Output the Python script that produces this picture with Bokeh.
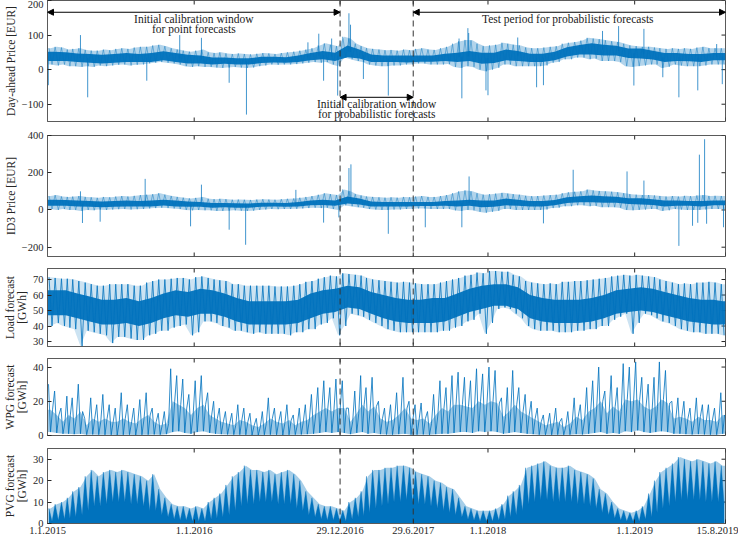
import numpy as np
import pandas as pd
from bokeh.plotting import figure
from bokeh.layouts import column
from bokeh.models import FixedTicker, Span, Arrow, NormalHead, Label, Range1d
from bokeh.embed import file_html
from bokeh.resources import INLINE

# ------------------------------------------------------------------ data
START = "2015-01-01"
END = "2019-08-15"
TICK_DATES = ["2015-01-01", "2016-01-01", "2016-12-29", "2017-06-29",
              "2018-01-01", "2019-01-01", "2019-08-15"]
TICK_LABELS = ["1.1.2015", "1.1.2016", "29.12.2016", "29.6.2017",
               "1.1.2018", "1.1.2019", "15.8.2019"]
SPLIT_DATES = ["2016-12-29", "2017-06-29"]

# --- Day-ahead price [EUR]: half-monthly envelope (upper / lower edge of band)
DA_HI = [62, 66, 64, 58, 60, 62, 57, 55, 55, 58, 56, 60, 62, 60, 64, 66, 66, 70, 72, 68, 62, 58, 55, 52,
         55, 58, 50, 48, 50, 47, 45, 47, 45, 44, 46, 48, 47, 45, 48, 50, 52, 55, 58, 62, 70, 76, 72, 68,
         95, 90, 75, 68, 62, 60, 58, 56, 57, 55, 58, 56, 60, 62, 58, 57, 62, 66, 75, 82, 86, 85, 75, 68,
         70, 72, 78, 75, 72, 70, 64, 62, 62, 64, 66, 68, 75, 78, 80, 84, 92, 90, 88, 85, 82, 80, 75, 70,
         68, 66, 66, 64, 62, 60, 62, 60, 62, 60, 64, 66, 62, 62, 62]
DA_LO = [15, 12, 15, 10, 10, 8, 10, 8, 12, 10, 12, 14, 15, 12, 14, 15, 18, 20, 22, 20, 18, 15, 10, 8,
         10, 8, 8, 6, 5, 6, 8, 6, 5, 6, 10, 12, 15, 14, 15, 15, 16, 18, 20, 22, 20, 22, 15, 10,
         35, 30, 25, 22, 15, 12, 10, 10, 12, 12, 15, 15, 18, 18, 15, 15, 15, 16, 8, 5, 10, 8, 0, -5,
         0, 5, 15, 15, 10, 10, 10, 10, 10, 12, 20, 22, 30, 30, 35, 35, 30, 32, 25, 25, 25, 22, 10, 8,
         10, 12, 15, 15, 5, 8, 15, 12, 10, 10, 10, 12, 15, 15, 15]
# monthly dense core of the band
DA_CORE_LO = [25, 25, 22, 20, 18, 20, 22, 22, 22, 27, 22, 18,
              18, 15, 17, 15, 15, 19, 21, 20, 22, 27, 30, 25,
              36, 32, 22, 22, 22, 21, 23, 23, 25, 22, 25, 17,
              19, 27, 25, 22, 22, 27, 38, 44, 44, 41, 41, 34,
              32, 29, 22, 25, 24, 22, 27, 27]
DA_CORE_HI = [52, 50, 47, 45, 43, 45, 48, 45, 48, 53, 48, 43,
              41, 35, 35, 33, 33, 37, 37, 36, 41, 48, 54, 49,
              70, 58, 44, 41, 41, 41, 41, 41, 46, 49, 54, 49,
              49, 58, 54, 46, 46, 52, 65, 71, 76, 72, 69, 61,
              61, 55, 48, 48, 45, 45, 48, 48]
DA_SPIKE_DATES = ["2015-01-03", "2015-03-24", "2015-04-11", "2015-09-05", "2015-11-26",
                  "2016-01-19", "2016-03-28", "2016-05-10", "2016-10-10", "2016-11-06",
                  "2016-11-18", "2016-12-08", "2016-12-23", "2017-01-20", "2017-01-24",
                  "2017-02-25", "2017-04-28", "2017-10-21", "2017-10-28", "2017-11-12",
                  "2017-11-14", "2017-12-27", "2018-01-01", "2018-03-16", "2018-05-02",
                  "2018-05-19", "2018-10-13", "2018-11-22", "2018-12-30", "2019-01-24",
                  "2019-03-12", "2019-04-21", "2019-06-07", "2019-07-24", "2019-08-07"]
DA_SPIKE_VALS = [-45, 100, -80, -32, 100,
                 92, -38, -130, 79, 104,
                 -32, 90, -75, 163, 130,
                 -27, -75, 90, -83, 120,
                 106, -60, -74, 93, -51,
                 -45, 112, 126, -46, 118,
                 -22, -80, -60, 74, -42]

# --- ID3 price [EUR]
ID3_HI = [75, 80, 72, 70, 72, 75, 70, 68, 65, 70, 68, 72, 75, 72, 76, 80, 82, 85, 90, 82, 75, 70, 66, 62,
          65, 70, 60, 58, 60, 58, 55, 56, 55, 54, 56, 58, 56, 55, 58, 60, 62, 66, 70, 75, 82, 90, 85, 80,
          110, 100, 85, 78, 72, 70, 68, 66, 68, 66, 70, 68, 72, 75, 70, 70, 75, 80, 90, 100, 105, 100, 90, 82,
          85, 88, 92, 88, 85, 82, 76, 74, 75, 78, 80, 82, 90, 95, 98, 100, 110, 105, 102, 100, 98, 95, 90, 85,
          82, 80, 80, 78, 75, 72, 75, 72, 76, 74, 78, 80, 75, 76, 75]
ID3_LO = [5, 0, 5, 0, 0, -5, 0, -2, 2, 0, 2, 4, 5, 2, 4, 5, 8, 10, 12, 10, 8, 5, 0, -2,
          0, -2, -2, -5, -5, -4, -2, -4, -5, -4, 0, 2, 5, 4, 5, 5, 6, 8, 10, 12, 10, 12, 5, 0,
          25, 20, 15, 12, 5, 2, 0, 0, 2, 2, 5, 5, 8, 8, 5, 5, 5, 6, -2, -5, 0, -2, -10, -15,
          -10, -5, 5, 5, 0, 0, 0, 0, 0, 2, 10, 12, 20, 20, 25, 25, 20, 22, 15, 15, 15, 12, 0, -2,
          0, 2, 5, 5, -5, -2, 5, 2, 0, 0, 0, 2, 5, 5, 5]
ID3_CORE_LO = [22, 22, 19, 17, 15, 17, 19, 19, 19, 24, 19, 17,
               17, 12, 15, 12, 12, 17, 19, 17, 19, 25, 27, 22,
               35, 29, 19, 19, 19, 19, 21, 21, 22, 19, 22, 15,
               17, 25, 22, 19, 19, 25, 37, 42, 42, 39, 39, 32,
               29, 27, 19, 22, 22, 19, 25, 25]
ID3_CORE_HI = [55, 53, 51, 48, 45, 48, 51, 48, 51, 55, 51, 45,
               43, 38, 38, 36, 35, 39, 39, 38, 43, 51, 55, 51,
               72, 61, 45, 43, 43, 43, 43, 43, 48, 51, 55, 51,
               51, 61, 55, 48, 48, 53, 68, 73, 78, 73, 71, 63,
               63, 58, 51, 51, 48, 48, 51, 51]
ID3_SPIKE_DATES = ["2015-03-24", "2015-03-29", "2015-05-12", "2015-09-01", "2015-12-23",
                   "2016-01-19", "2016-03-28", "2016-05-08", "2016-09-10", "2016-11-18",
                   "2016-12-26", "2017-01-20", "2017-01-25", "2017-04-28", "2017-07-29",
                   "2017-10-28", "2017-11-15", "2018-05-19", "2018-08-01", "2018-12-13",
                   "2019-01-24", "2019-04-21", "2019-05-25", "2019-06-07", "2019-06-11",
                   "2019-06-24", "2019-06-29", "2019-08-10"]
ID3_SPIKE_VALS = [100, -70, -63, 167, -88,
                  136, -106, -187, 108, -68,
                  -40, 225, 245, -128, -93,
                  -93, 180, -72, 216, 207,
                  158, -193, -85, -69, 297,
                  380, -74, -93]

# --- Load forecast [GWh]
LOAD_HI = [71.5, 71, 70.5, 70.5, 70, 69, 68, 67, 66, 66, 67, 67, 67, 67, 66, 66, 68, 69, 70, 70, 70.5, 71, 71, 70,
           71.5, 72, 71, 70, 69.5, 69, 67, 67, 66, 66, 66, 66, 66, 65.5, 65.5, 65.5, 66, 67, 68.5, 69, 70.5, 71.5, 72.5, 72,
           74, 73.5, 73, 72.5, 71, 70, 69.5, 69, 68.5, 68, 68.5, 68, 67.5, 67, 67, 67, 68, 69, 70, 71, 72.5, 73, 74.5, 74,
           75.5, 75.5, 75, 75, 73, 72, 69, 68, 67.5, 67, 67.5, 67, 68.5, 68.5, 69, 69, 69.5, 70, 70.5, 71, 72, 72.5, 73, 72.5,
           73, 72.5, 72, 71.5, 70, 69, 68, 67, 67.5, 67, 68, 68, 68.5, 68, 67]
LOAD_LO = [40, 42, 40, 39, 38, 27, 37, 36, 35, 34, 29, 33, 33, 32, 31, 31, 34, 35, 37, 37, 39, 40, 41, 34,
           36, 43, 43, 42, 40, 39, 37, 37, 36, 35, 36, 35, 35, 35, 35, 34, 36, 36, 38, 38, 41, 42, 45, 34,
           40, 48, 47, 46, 44, 42, 40, 38, 37, 36, 36, 36, 36, 36, 36, 36, 37, 37, 39, 40, 43, 44, 48, 35,
           42, 51, 52, 51, 48, 45, 40, 38, 37, 37, 37, 36, 36, 36, 37, 37, 38, 38, 40, 40, 44, 46, 48, 35,
           42, 48, 47, 45, 43, 42, 40, 38, 37, 36, 36, 35, 35, 35, 34]
LOAD_CORE_LO = [47, 47, 45, 43, 41, 41, 42, 40, 42, 45, 47, 46,
                48, 48, 46, 43, 41, 41, 41, 41, 42, 45, 48, 49,
                52, 51, 48, 45, 43, 42, 42, 42, 43, 46, 49, 51,
                53, 53, 51, 45, 43, 42, 42, 42, 43, 45, 48, 49,
                50, 49, 47, 45, 43, 42, 41, 41]
LOAD_CORE_HI = [63, 63, 61, 59, 57, 57, 58, 56, 58, 61, 63, 62,
                64, 63, 61, 58, 56, 56, 56, 56, 57, 61, 63, 64,
                66, 65, 62, 60, 58, 57, 57, 58, 58, 61, 64, 66,
                67, 67, 65, 60, 58, 57, 57, 57, 58, 60, 63, 64,
                65, 64, 62, 60, 58, 57, 57, 56]

# --- Wind power generation forecast [GWh]
WPG_HI = [30, 26, 16, 23, 22, 30, 10, 22, 18, 24, 18, 16, 25, 18, 16, 21, 25, 16, 13, 14, 39, 35, 33, 24,
          32, 35, 25, 20, 16, 14, 13, 18, 16, 13, 10, 14, 22, 16, 14, 18, 12, 16, 18, 24, 28, 32, 28, 33,
          32, 16, 26, 35, 28, 34, 20, 16, 18, 25, 34, 20, 18, 19, 14, 24, 32, 28, 35, 37, 34, 32, 39, 36,
          40, 38, 22, 28, 38, 28, 24, 20, 16, 12, 13, 16, 10, 14, 22, 18, 28, 32, 40, 26, 35, 28, 42, 40,
          43, 34, 30, 34, 43, 38, 20, 22, 20, 16, 22, 18, 18, 16, 25]
WPG_MID = [15, 12, 8, 12, 10, 14, 6, 10, 8, 10, 8, 8, 10, 8, 7, 10, 12, 8, 6, 7, 20, 18, 16, 12,
           16, 18, 12, 10, 8, 7, 6, 9, 8, 6, 5, 7, 10, 8, 7, 9, 6, 8, 9, 12, 14, 16, 14, 16,
           16, 8, 13, 18, 14, 17, 10, 8, 9, 12, 16, 10, 9, 10, 7, 12, 16, 14, 18, 18, 17, 16, 20, 18,
           20, 19, 11, 14, 18, 14, 12, 10, 8, 6, 7, 8, 5, 7, 11, 9, 14, 16, 20, 13, 17, 14, 21, 20,
           21, 17, 15, 17, 21, 19, 10, 11, 10, 8, 11, 9, 9, 8, 12]
WPG_LO = [2, 1.5, 1, 1, 0.8, 1, 0.5, 0.6, 0.5, 0.4, 0.4, 0.3, 0.4, 0.5, 0.3, 0.4, 0.5, 0.6, 0.5, 0.8, 2, 2.5, 1.5, 1,
          2, 2.5, 1.5, 1, 0.8, 0.6, 0.5, 0.5, 0.4, 0.3, 0.3, 0.4, 0.5, 0.4, 0.3, 0.4, 0.5, 0.6, 0.8, 1, 1.5, 2, 1.5, 2,
          1.5, 0.8, 1.5, 2, 1, 1.5, 0.8, 0.6, 0.5, 0.8, 1, 0.5, 0.5, 0.6, 0.4, 0.8, 1, 1, 1.5, 2, 2, 1.5, 2.5, 2,
          2.5, 2, 1, 1.5, 2, 1.5, 1, 0.8, 0.5, 0.4, 0.4, 0.5, 0.4, 0.5, 0.8, 0.6, 1, 1.5, 2, 1, 1.5, 1, 2.5, 2,
          3, 2, 1.5, 2, 2.5, 2, 1, 1, 0.8, 0.6, 0.8, 0.6, 0.5, 0.5, 1]

# --- PV generation forecast [GWh]
PVG_HI = [7, 9, 10, 12, 15, 17, 22, 25, 22, 24, 25, 24, 25, 24, 23, 22, 20, 23, 16, 12, 9, 8, 8, 7,
          8, 7, 10, 12, 14, 18, 22, 24, 27, 25, 25, 24, 25, 23, 24, 25, 23, 20, 15, 12, 9, 8, 8, 7,
          6, 10, 12, 15, 22, 25, 25, 26, 26, 27, 27, 26, 24, 23, 22, 20, 19, 17, 16, 12, 8, 7, 6, 6,
          6, 7, 9, 13, 15, 18, 26, 27, 28, 29, 27, 26, 26, 27, 25, 24, 23, 21, 16, 14, 10, 7, 6, 5,
          6, 8, 14, 20, 24, 26, 28, 31, 30, 29, 30, 29, 28, 29, 27]
PVG_LO = [1, 1.5, 2, 2.5, 3, 4, 6, 8, 8, 9, 10, 10, 10, 9, 9, 8, 6, 6, 4, 3, 2, 1.5, 1.5, 1,
          1, 1, 2, 2.5, 3, 4, 6, 8, 9, 9, 10, 10, 10, 9, 9, 9, 7, 6, 4, 3, 2, 1.5, 1.5, 1,
          1, 2, 3, 3.5, 5, 7, 8, 9, 10, 10, 11, 10, 9, 9, 8, 7, 6, 5, 4, 3, 2, 1.5, 1, 1,
          1, 1.5, 2, 3, 4, 6, 9, 10, 11, 11, 10, 10, 10, 10, 9, 9, 8, 7, 5, 4, 2.5, 1.5, 1, 1,
          1, 2, 3, 5, 7, 8, 10, 11, 11, 11, 11, 10, 10, 10, 9]

for arr in (DA_HI, DA_LO, ID3_HI, ID3_LO, LOAD_HI, LOAD_LO, WPG_HI, WPG_MID, WPG_LO, PVG_HI, PVG_LO):
    assert len(arr) == 111, len(arr)
for arr in (DA_CORE_LO, DA_CORE_HI, ID3_CORE_LO, ID3_CORE_HI, LOAD_CORE_LO, LOAD_CORE_HI):
    assert len(arr) == 56, len(arr)

# ------------------------------------------------------------------ time grid
T0 = pd.Timestamp(START)
T_END = pd.Timestamp(END)
XMAX = (T_END - T0).days


def days(dates):
    return np.array([(pd.Timestamp(d) - T0).days for d in dates], float)


half_starts = [pd.Timestamp(y, m, d) for y in range(2015, 2020) for m in range(1, 13) for d in (1, 16)]
half_starts = [t for t in half_starts if t < T_END]
hs = days(half_starts)
he = np.append(hs[1:], XMAX)
hmid = (hs + he) / 2
hw = he - hs
month_starts = [pd.Timestamp(y, m, 1) for y in range(2015, 2020) for m in range(1, 13)]
month_starts = [t for t in month_starts if t < T_END]
ms = days(month_starts)
me = np.append(ms[1:], XMAX)
mmid = (ms + me) / 2


def zig2(a, b):
    x = np.empty(2 * len(hs)); y = np.empty(2 * len(hs))
    x[0::2] = hs + 0.25 * hw; x[1::2] = hs + 0.75 * hw
    y[0::2] = a; y[1::2] = b
    return x, y


def zig3(a, b, c):
    n = len(hs)
    x = np.empty(3 * n); y = np.empty(3 * n)
    x[0::3] = hs + hw / 6; x[1::3] = hs + hw / 2; x[2::3] = hs + 5 * hw / 6
    y[0::3] = a; y[1::3] = b; y[2::3] = c
    return x, y


def edge(vals, centers):
    """envelope running over the whole time span (ends held flat)."""
    x = np.concatenate([[0], centers, [XMAX]])
    y = np.concatenate([[vals[0]], vals, [vals[-1]]])
    return x, y


XT = [int(v) for v in days(TICK_DATES)]
XLAB = {XT[i]: TICK_LABELS[i] for i in range(len(XT))}

BLUE = "#0072BD"
FRAME = "#5a5a5a"
TXT = "#262626"
FONT = "Liberation Serif"
FW = 678


def panel(fh, yr, yticks, ylabel, top_b, bot_b, show_x=False):
    p = figure(frame_width=FW, frame_height=fh, x_range=Range1d(0, XMAX), y_range=Range1d(*yr),
               min_border_left=40, min_border_right=13, min_border_top=top_b, min_border_bottom=bot_b,
               output_backend="svg", toolbar_location=None)
    p.grid.visible = False
    p.outline_line_color = FRAME
    p.outline_line_width = 1
    p.background_fill_color = "white"
    p.border_fill_color = "white"

    xa = p.xaxis[0]
    if show_x:
        xa.ticker = FixedTicker(ticks=XT)
        xa.major_label_overrides = XLAB
        xa.major_tick_in = 4
        xa.major_tick_out = 0
        xa.minor_tick_line_color = None
        xa.axis_line_color = FRAME
        xa.major_tick_line_color = TXT
        xa.major_label_text_font = FONT
        xa.major_label_text_color = TXT
        xa.major_label_text_font_size = "10.5px"
        xa.major_label_standoff = 3
    else:
        xa.visible = False

    ya = p.yaxis[0]
    ya.ticker = FixedTicker(ticks=yticks)
    ya.major_tick_in = 4
    ya.major_tick_out = 0
    ya.minor_tick_line_color = None
    ya.axis_line_color = FRAME
    ya.major_tick_line_color = TXT
    ya.major_label_text_font = FONT
    ya.major_label_text_font_size = "10.5px"
    ya.major_label_text_color = TXT
    ya.major_label_standoff = 4
    ya.axis_label = ylabel
    ya.axis_label_text_font = FONT
    ya.axis_label_text_font_style = "normal"
    ya.axis_label_text_font_size = "11.5px"
    ya.axis_label_text_color = TXT
    ya.axis_label_standoff = 2
    ya.axis_label_text_line_height = 1.0

    # box ticks (top, right and - where no axis - bottom), 4 px long, inward
    ylen = 4.0 * (yr[1] - yr[0]) / fh
    xlen = 4.0 * XMAX / FW
    n = len(XT)
    p.segment(x0=XT, y0=[yr[1]] * n, x1=XT, y1=[yr[1] - ylen] * n, line_color=TXT, line_width=1)
    if not show_x:
        p.segment(x0=XT, y0=[yr[0]] * n, x1=XT, y1=[yr[0] + ylen] * n, line_color=TXT, line_width=1)
    m = len(yticks)
    p.segment(x0=[XMAX] * m, y0=yticks, x1=[XMAX - xlen] * m, y1=yticks, line_color=TXT, line_width=1)

    for d in days(SPLIT_DATES):
        p.add_layout(Span(location=d, dimension="height", line_color="#333333",
                          line_dash="6 4", line_width=1))
    return p


def band(p, hi, lo, core_lo, core_hi, light=0.3, zig_alpha=0.55, zig_w=0.8):
    ex, ehi = edge(hi, hmid)
    _, elo = edge(lo, hmid)
    p.varea(x=ex, y1=elo, y2=ehi, fill_color=BLUE, fill_alpha=light)
    cx, chi = edge(core_hi, mmid)
    _, clo = edge(core_lo, mmid)
    p.varea(x=cx, y1=clo, y2=chi, fill_color=BLUE, fill_alpha=0.95)
    zx, zy = zig2(hi, lo)
    p.line(zx, zy, line_color=BLUE, line_width=zig_w, line_alpha=zig_alpha)


def spikes(p, dates, vals, core_lo, core_hi):
    sx = days(dates)
    base = np.interp(sx, mmid, (np.array(core_lo) + np.array(core_hi)) / 2)
    p.segment(x0=sx, y0=base, x1=sx, y1=vals, line_color=BLUE, line_width=1, line_alpha=0.75)


# ---- panel 1: day-ahead price
p1 = panel(121, (-150, 200), [-100, 0, 100, 200], "Day-ahead Price [EUR]", 0, 7)
band(p1, DA_HI, DA_LO, DA_CORE_LO, DA_CORE_HI)
spikes(p1, DA_SPIKE_DATES, DA_SPIKE_VALS, DA_CORE_LO, DA_CORE_HI)

split = days(SPLIT_DATES)
for x0, x1, y in [(0, split[0], 166), (split[1], XMAX, 166), (split[0], split[1], -80)]:
    p1.add_layout(Arrow(x_start=x0, y_start=y, x_end=x1, y_end=y, line_color="black", line_width=1,
                        start=NormalHead(size=6, fill_color="black", line_color="black"),
                        end=NormalHead(size=6, fill_color="black", line_color="black")))
ann = [(split[0] / 2, 146, "Initial calibration window"),
       (split[0] / 2, 118, "for point forecasts"),
       ((split[1] + XMAX) / 2 - 4, 146, "Test period for probabilistic forecasts"),
       ((split[0] + split[1]) / 2, -100, "Initial calibration window"),
       ((split[0] + split[1]) / 2, -127, "for probabilistic forecasts")]
for x, y, t in ann:
    p1.add_layout(Label(x=x, y=y, text=t, text_align="center", text_baseline="middle",
                        text_font=FONT, text_font_size="11.5px", text_color="#1a1a1a"))

# ---- panel 2: ID3 price
p2 = panel(121, (-250, 400), [-200, 0, 200, 400], "ID3 Price [EUR]", 7, 6)
band(p2, ID3_HI, ID3_LO, ID3_CORE_LO, ID3_CORE_HI)
spikes(p2, ID3_SPIKE_DATES, ID3_SPIKE_VALS, ID3_CORE_LO, ID3_CORE_HI)

# ---- panel 3: load
p3 = panel(78, (26.8, 77.1), [30, 40, 50, 60, 70], "Load forecast\n[GWh]", 6, 6)
band(p3, LOAD_HI, LOAD_LO, LOAD_CORE_LO, LOAD_CORE_HI, light=0.2, zig_alpha=0.8, zig_w=1.0)

# ---- panel 4: wind
p4 = panel(77, (0, 45), [0, 20, 40], "WPG forecast\n[GWh]", 6, 7)
wex, wemid = edge(WPG_MID, hmid)
_, welo = edge(WPG_LO, hmid)
p4.varea(x=wex, y1=welo, y2=wemid, fill_color=BLUE, fill_alpha=0.4)
wx, wy = zig3(WPG_HI, WPG_LO, WPG_MID)
p4.line(wx, wy, line_color=BLUE, line_width=0.9, line_alpha=0.9)

# ---- panel 5: PV
p5 = panel(75, (0, 35), [0, 10, 20, 30], "PVG forecast\n[GWh]", 6, 0, show_x=True)
pex, pehi = edge(PVG_HI, hmid)
p5.varea(x=pex, y1=0, y2=pehi, fill_color=BLUE, fill_alpha=0.35)
px_, py_ = zig2(PVG_HI, PVG_LO)
p5.varea(x=px_, y1=0, y2=py_, fill_color=BLUE, fill_alpha=1.0)
p5.line(px_, py_, line_color=BLUE, line_width=0.8, line_alpha=0.5)

layout = column(p1, p2, p3, p4, p5, spacing=0)
open("out.html", "w").write(file_html(layout, INLINE))
